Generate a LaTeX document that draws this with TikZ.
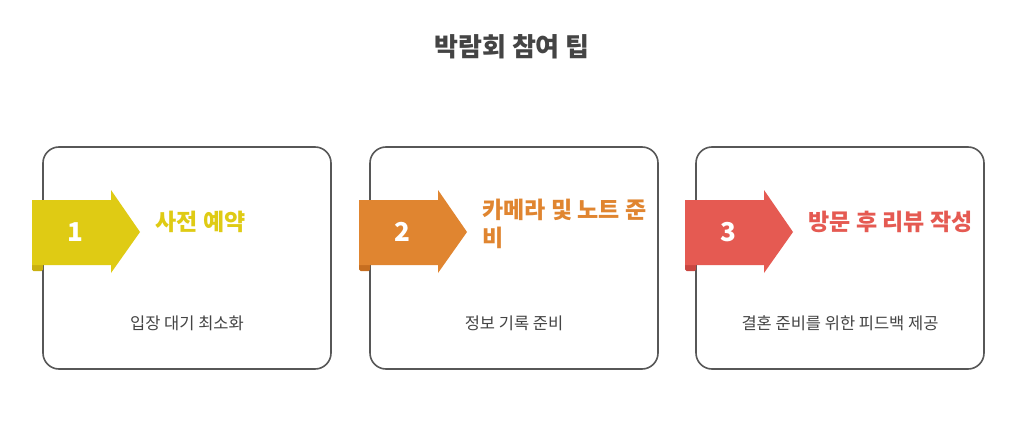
\documentclass[tikz,border=0pt]{standalone}
\usepackage{fontspec}
\setmainfont{Noto Sans CJK KR}
\definecolor{cy}{HTML}{DFCB14}\definecolor{cyd}{HTML}{C9B010}
\definecolor{co}{HTML}{E08530}\definecolor{cod}{HTML}{C66E20}
\definecolor{cr}{HTML}{E55A52}\definecolor{crd}{HTML}{C94640}
\definecolor{txt}{HTML}{444444}
\tikzset{card/.style={draw=txt!90,line width=1.6pt,rounded corners=16pt,fill=white},
 num/.style={text=white,font=\fontsize{26}{26}\selectfont\bfseries},
 ttl/.style={anchor=west,align=left,font=\fontsize{23}{28}\selectfont\bfseries},
 sub/.style={text=txt,font=\fontsize{16.5}{18}\selectfont}}
\begin{document}
\begin{tikzpicture}[x=1pt,y=-1pt]
\useasboundingbox (0,0) rectangle (1024,425);
\node[text=txt,font=\fontsize{26}{28}\selectfont\bfseries] (title) at (512,47) {박람회 참여 팁};
\foreach \o/\c/\d/\n/\t/\s/\ty in {0/cy/cyd/1/사전 예약/입장 대기 최소화/222,327/co/cod/2/{카메라 및 노트 준\\비}/정보 기록 준비/224,653/cr/crd/3/방문 후 리뷰 작성/결혼 준비를 위한 피드백 제공/222}{
 \begin{scope}[xshift=\o]
 \draw[card] (43,147) rectangle (331,369);
 \fill[\d,rounded corners=1.5pt] (32,262) rectangle (43,271);
 \fill[\c] (32,200) -- (111,200) -- (111,190) -- (140,232) -- (111,273) -- (111,265) -- (32,265) -- cycle;
 \node[num] (n\n) at (75,232) {\n};
 \node[ttl,text=\c] (t\n) at (152,\ty) {\t};
 \node[sub] (s\n) at (187,323) {\s};
 \end{scope}}
\end{tikzpicture}
\end{document}
